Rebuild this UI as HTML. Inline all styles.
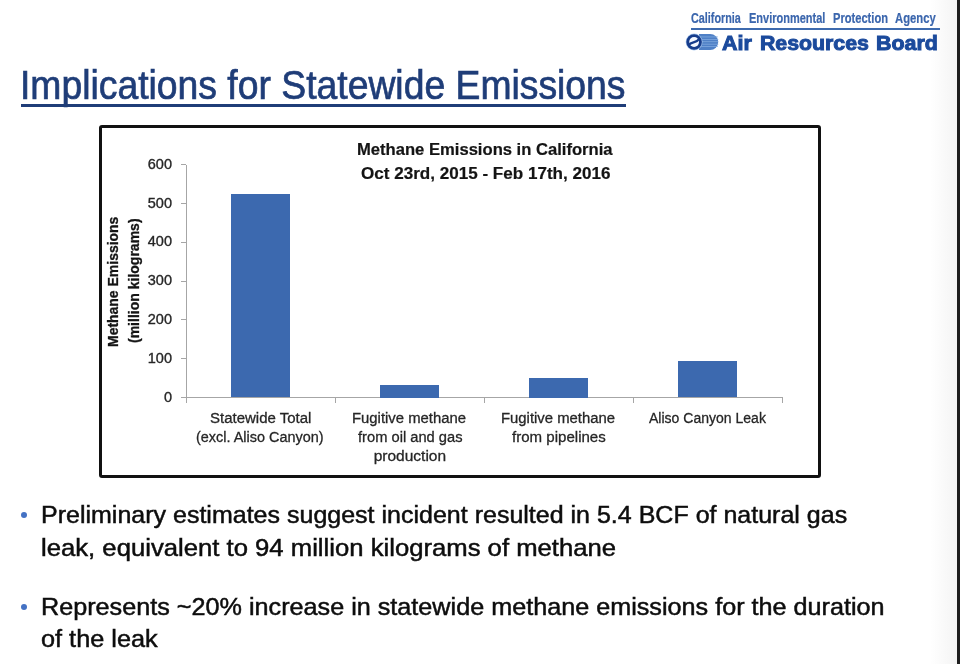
<!DOCTYPE html>
<html>
<head>
<meta charset="utf-8">
<style>
html,body{margin:0;padding:0;}
body{width:960px;height:664px;position:relative;overflow:hidden;background:#fff;font-family:"Liberation Sans",sans-serif;}
.a{position:absolute;white-space:nowrap;line-height:1;transform-origin:0 0;}
.r{position:absolute;}
</style>
</head>
<body>
<div class="r" style="left:0;top:0;width:960px;height:664px;filter:blur(0.35px);">
<div class="r" style="left:930px;top:0;width:27px;height:664px;background:linear-gradient(to right,#fff,#f4f4f4);"></div>
<div class="r" style="left:956.6px;top:0;width:4px;height:664px;background:#1e1e1e;"></div>
<div class="a" style="left:690.80px;top:11.15px;font-size:14px;color:#3b66ad;font-weight:bold;-webkit-text-stroke:0.2px #3b66ad;transform:scaleX(0.7723);">California</div>
<div class="a" style="left:749.30px;top:11.15px;font-size:14px;color:#3b66ad;font-weight:bold;-webkit-text-stroke:0.2px #3b66ad;transform:scaleX(0.7856);">Environmental</div>
<div class="a" style="left:833.30px;top:11.15px;font-size:14px;color:#3b66ad;font-weight:bold;-webkit-text-stroke:0.2px #3b66ad;transform:scaleX(0.7942);">Protection</div>
<div class="a" style="left:895.30px;top:11.15px;font-size:14px;color:#3b66ad;font-weight:bold;-webkit-text-stroke:0.2px #3b66ad;transform:scaleX(0.8039);">Agency</div>
<div class="r" style="left:691px;top:28.3px;width:248.6px;height:2px;background:#3d6aae;"></div>
<svg class="r" style="left:682px;top:30px" width="40" height="24" viewBox="0 0 40 24">
  <path d="M17 4 H28.2 A8 8 0 0 1 28.2 20 H17 Z" fill="#4f80c6"/>
  <g fill="#86aee2">
    <rect x="18" y="6.6" width="18" height="0.7"/>
    <rect x="18" y="9.0" width="18.3" height="0.7"/>
    <rect x="18" y="11.4" width="18.3" height="0.7"/>
    <rect x="18" y="13.8" width="18.3" height="0.7"/>
    <rect x="18" y="16.2" width="18" height="0.7"/>
  </g>
  <circle cx="12.1" cy="12" r="8.4" fill="#aac8ee"/>
  <circle cx="12.1" cy="12" r="7.8" fill="#173d8c"/>
  <circle cx="12.1" cy="12" r="4.9" fill="#f4f8ff"/>
  <path d="M6.6 15.2 C9.5 11.2 14.2 13.6 17.4 8.6" stroke="#173d8c" stroke-width="2.3" fill="none"/>
</svg>
<div class="a" style="left:721.80px;top:33.25px;font-size:20.5px;color:#1b4a9c;font-weight:bold;-webkit-text-stroke:1.0px #1b4a9c;transform:scaleX(1.0483);">Air</div>
<div class="a" style="left:759.96px;top:33.25px;font-size:20.5px;color:#1b4a9c;font-weight:bold;-webkit-text-stroke:1.0px #1b4a9c;transform:scaleX(1.0385);">Resources</div>
<div class="a" style="left:876.16px;top:33.25px;font-size:20.5px;color:#1b4a9c;font-weight:bold;-webkit-text-stroke:1.0px #1b4a9c;transform:scaleX(1.0431);">Board</div>
<div class="a" style="left:20.20px;top:64.94px;font-size:40px;color:#1f3d78;font-weight:normal;-webkit-text-stroke:0.7px #1f3d78;transform:scaleX(0.9328);">Implications for Statewide Emissions</div>
<div class="r" style="left:20.6px;top:104.4px;width:605px;height:2.6px;background:#1f3d78;"></div>
<div class="r" style="left:99px;top:124.5px;width:716.3px;height:347.3px;border:3px solid #111;border-radius:3px;"></div>
<div class="a" style="left:356.95px;top:142.03px;font-size:15.8px;color:#141414;font-weight:bold;-webkit-text-stroke:0.2px #141414;transform:scaleX(1.0510);">Methane Emissions in California</div>
<div class="a" style="left:361.00px;top:166.13px;font-size:15.8px;color:#141414;font-weight:bold;-webkit-text-stroke:0.2px #141414;transform:scaleX(1.0801);">Oct 23rd, 2015 - Feb 17th, 2016</div>
<div class="r" style="left:185.5px;top:164.5px;width:1px;height:238px;background:#a6a6a6"></div>
<div class="r" style="left:181px;top:397.0px;width:601px;height:1px;background:#a6a6a6"></div>
<div class="r" style="left:181px;top:358.2px;width:5px;height:1px;background:#a6a6a6"></div>
<div class="r" style="left:181px;top:319.4px;width:5px;height:1px;background:#a6a6a6"></div>
<div class="r" style="left:181px;top:280.6px;width:5px;height:1px;background:#a6a6a6"></div>
<div class="r" style="left:181px;top:241.8px;width:5px;height:1px;background:#a6a6a6"></div>
<div class="r" style="left:181px;top:203.0px;width:5px;height:1px;background:#a6a6a6"></div>
<div class="r" style="left:181px;top:164.2px;width:5px;height:1px;background:#a6a6a6"></div>
<div class="r" style="left:334.5px;top:397.0px;width:1px;height:6px;background:#a6a6a6"></div>
<div class="r" style="left:483.5px;top:397.0px;width:1px;height:6px;background:#a6a6a6"></div>
<div class="r" style="left:632.5px;top:397.0px;width:1px;height:6px;background:#a6a6a6"></div>
<div class="r" style="left:781.5px;top:397.0px;width:1px;height:6px;background:#a6a6a6"></div>
<div class="a" style="left:120px;width:52px;text-align:right;top:389.5px;font-size:14.5px;color:#262626;-webkit-text-stroke:0.35px #262626">0</div>
<div class="a" style="left:120px;width:52px;text-align:right;top:350.7px;font-size:14.5px;color:#262626;-webkit-text-stroke:0.35px #262626">100</div>
<div class="a" style="left:120px;width:52px;text-align:right;top:311.9px;font-size:14.5px;color:#262626;-webkit-text-stroke:0.35px #262626">200</div>
<div class="a" style="left:120px;width:52px;text-align:right;top:273.1px;font-size:14.5px;color:#262626;-webkit-text-stroke:0.35px #262626">300</div>
<div class="a" style="left:120px;width:52px;text-align:right;top:234.3px;font-size:14.5px;color:#262626;-webkit-text-stroke:0.35px #262626">400</div>
<div class="a" style="left:120px;width:52px;text-align:right;top:195.5px;font-size:14.5px;color:#262626;-webkit-text-stroke:0.35px #262626">500</div>
<div class="a" style="left:120px;width:52px;text-align:right;top:156.7px;font-size:14.5px;color:#262626;-webkit-text-stroke:0.35px #262626">600</div>
<div class="r" style="left:231.1px;top:193.7px;width:59px;height:203.8px;background:#3c69af"></div>
<div class="r" style="left:380.2px;top:385.0px;width:59px;height:12.5px;background:#3c69af"></div>
<div class="r" style="left:529.2px;top:378.0px;width:59px;height:19.5px;background:#3c69af"></div>
<div class="r" style="left:677.9px;top:361.2px;width:59px;height:36.3px;background:#3c69af"></div>
<div class="a" style="left:210.00px;top:409.68px;font-size:15.5px;color:#262626;font-weight:normal;-webkit-text-stroke:0.3px #262626;transform:scaleX(0.9676);">Statewide Total</div>
<div class="a" style="left:196.37px;top:429.38px;font-size:15.5px;color:#262626;font-weight:normal;-webkit-text-stroke:0.3px #262626;transform:scaleX(0.9309);">(excl. Aliso Canyon)</div>
<div class="a" style="left:352.44px;top:409.68px;font-size:15.5px;color:#262626;font-weight:normal;-webkit-text-stroke:0.3px #262626;transform:scaleX(0.9593);">Fugitive methane</div>
<div class="a" style="left:358.20px;top:428.68px;font-size:15.5px;color:#262626;font-weight:normal;-webkit-text-stroke:0.3px #262626;transform:scaleX(0.9482);">from oil and gas</div>
<div class="a" style="left:373.70px;top:447.98px;font-size:15.5px;color:#262626;font-weight:normal;-webkit-text-stroke:0.3px #262626;transform:scaleX(1.0000);">production</div>
<div class="a" style="left:501.04px;top:409.68px;font-size:15.5px;color:#262626;font-weight:normal;-webkit-text-stroke:0.3px #262626;transform:scaleX(0.9585);">Fugitive methane</div>
<div class="a" style="left:511.90px;top:428.68px;font-size:15.5px;color:#262626;font-weight:normal;-webkit-text-stroke:0.3px #262626;transform:scaleX(0.9719);">from pipelines</div>
<div class="a" style="left:648.50px;top:409.68px;font-size:15.5px;color:#262626;font-weight:normal;-webkit-text-stroke:0.3px #262626;transform:scaleX(0.9046);">Aliso Canyon Leak</div>
<div class="a" style="left:106.36px;top:346.55px;font-size:14.7px;color:#141414;font-weight:bold;-webkit-text-stroke:0.3px #141414;transform:rotate(-90deg) scaleX(0.9507);">Methane Emissions</div>
<div class="a" style="left:126.76px;top:342.90px;font-size:14.7px;color:#141414;font-weight:bold;-webkit-text-stroke:0.3px #141414;transform:rotate(-90deg) scaleX(0.9538);">(million kilograms)</div>
<div class="r" style="left:21.2px;top:512.3px;width:6px;height:6px;border-radius:50%;background:#4472c4"></div>
<div class="r" style="left:21.2px;top:603.7px;width:6px;height:6px;border-radius:50%;background:#4472c4"></div>
<div class="a" style="left:40.68px;top:502.78px;font-size:24.6px;color:#0d0d0d;font-weight:normal;-webkit-text-stroke:0.5px #0d0d0d;transform:scaleX(1.0168);">Preliminary estimates suggest incident resulted in 5.4 BCF of natural gas</div>
<div class="a" style="left:40.66px;top:536.08px;font-size:24.6px;color:#0d0d0d;font-weight:normal;-webkit-text-stroke:0.5px #0d0d0d;transform:scaleX(1.0438);">leak, equivalent to 94 million kilograms of methane</div>
<div class="a" style="left:40.78px;top:594.68px;font-size:24.6px;color:#0d0d0d;font-weight:normal;-webkit-text-stroke:0.5px #0d0d0d;transform:scaleX(1.0242);">Represents ~20% increase in statewide methane emissions for the duration</div>
<div class="a" style="left:40.80px;top:627.18px;font-size:24.6px;color:#0d0d0d;font-weight:normal;-webkit-text-stroke:0.5px #0d0d0d;transform:scaleX(1.0281);">of the leak</div>
</div>
</body>
</html>
